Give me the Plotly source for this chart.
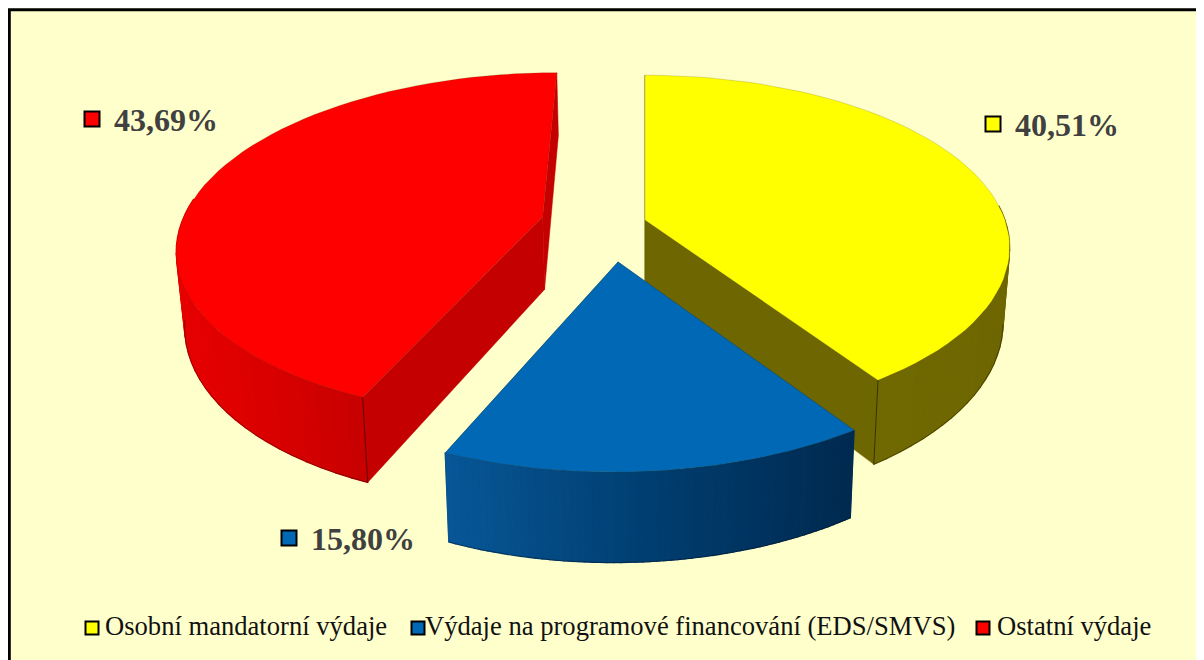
import math
import plotly.graph_objects as go

labels = ["Osobní mandatorní výdaje", "Výdaje na programové financování (EDS/SMVS)", "Ostatní výdaje"]
values = [40.51, 15.80, 43.69]
value_text = ["40,51%", "15,80%", "43,69%"]
top_colors = ["#FFFF00", "#0068B5", "#FF0000"]
inner_colors = ["#6E6600", "#004C88", "#C40000"]
# side wall shading, from left to right across the visible rim
rim_colors = {
    0: [(0.0, (112, 104, 0)), (1.0, (110, 102, 0))],
    1: [(0.0, (8, 86, 150)), (0.5, (0, 62, 112)), (1.0, (0, 42, 80))],
    2: [(0.0, (230, 0, 0)), (0.3, (224, 0, 0)), (0.7, (212, 0, 0)), (1.0, (200, 0, 0))],
}
# explosion of each slice on the pie plane, and its radii
offsets = [(0.0, 0.0), (-0.072, -0.24), (-0.285, 0.02)]
radii = [(1.0, 1.0), (0.99, 0.97), (1.0, 1.0)]

# perspective camera, pixels (axes below run in page pixels)
CX, CY, A, B, K = 645, 220, 360, 168, 0.16
DEPTH, SHRINK = 73, 0.982


def project(X, Y, low=False):
    w = 1 + K * Y
    x = A * X / w
    y = CY - B * Y / w
    if low:
        return CX + SHRINK * x, y + DEPTH / w
    return CX + x, y


def mix(stops, t):
    for (t0, c0), (t1, c1) in zip(stops, stops[1:]):
        if t <= t1:
            u = (t - t0) / (t1 - t0)
            return "rgb(%d,%d,%d)" % tuple(round(a + (b - a) * u) for a, b in zip(c0, c1))
    return "rgb(%d,%d,%d)" % stops[-1][1]


def poly(pts, fill, line=None, width=1.2):
    return go.Scatter(
        x=[p[0] for p in pts] + [pts[0][0]],
        y=[p[1] for p in pts] + [pts[0][1]],
        mode="lines",
        fill="toself",
        fillcolor=fill,
        line=dict(color=line or fill, width=width),
        hoverinfo="skip",
        showlegend=False,
    )


def stroke(pts, color, width=1.0):
    return go.Scatter(
        x=[p[0] for p in pts], y=[p[1] for p in pts], mode="lines",
        line=dict(color=color, width=width), hoverinfo="skip", showlegend=False,
    )


total = sum(values)
starts, acc = [], 0.0
for v in values:
    starts.append(acc)
    acc += v / total * 2 * math.pi

EDGE = "rgba(0,0,0,0.35)"
fig = go.Figure()
for i in [2, 0, 1]:  # painter's order: far slices first
    ox, oy = offsets[i]
    rx, ry = radii[i]
    t0 = starts[i]
    t1 = t0 + values[i] / total * 2 * math.pi
    n = 60
    angles = [t0 + (t1 - t0) * j / n for j in range(n + 1)]
    rim = [(ox + rx * math.sin(t), oy + ry * math.cos(t)) for t in angles]
    apex = (ox, oy)
    # inner walls
    for end in (rim[0], rim[-1]):
        quad = [project(*apex), project(*end), project(*end, low=True), project(*apex, low=True)]
        fig.add_trace(poly(quad, inner_colors[i], width=0.5))
    # outer wall, only the part facing the viewer
    vis = [j for j in range(n) if math.cos((angles[j] + angles[j + 1]) / 2) < 0.1]
    if vis:
        xs = [project(*rim[j])[0] for j in vis]
        lo, hi = min(xs), max(xs)
        for j in vis:
            a, b = rim[j], rim[j + 1]
            t = (project(*a)[0] - lo) / (hi - lo + 1e-9)
            c = mix(rim_colors[i], max(0, min(1, t)))
            fig.add_trace(poly([project(*a), project(*b), project(*b, low=True), project(*a, low=True)], c))
        outline = [j for j in range(n + 1) if math.cos(angles[j]) < -K]
        fig.add_trace(stroke([project(*rim[j], low=True) for j in outline], EDGE))
    # the corner where the rim meets the wall nearest the viewer
    if i != 1:
        corner = rim[-1] if i == 0 else rim[0]
        fig.add_trace(stroke([project(*corner), project(*corner, low=True)], "rgba(0,0,0,0.5)"))
    # top face
    top = [project(*apex)] + [project(*p) for p in rim]
    fig.add_trace(poly(top, top_colors[i], line="rgba(70,60,0,0.3)", width=0.6))

LABEL_FONT = dict(family="Liberation Serif", size=32, color="#404040", weight="bold")
KEY_FONT = dict(family="Liberation Serif", size=26.6, color="#111111")
label_xy = [(993, 124), (289, 538), (92, 119)]
key_marker_x = [92, 418, 983]
key_text_x = [105, 425, 997]
KEY_Y = 628

for i in range(3):
    fig.add_trace(go.Scatter(
        x=[label_xy[i][0]], y=[label_xy[i][1]], mode="markers", hoverinfo="skip", showlegend=False,
        marker=dict(symbol="square", size=15, color=top_colors[i], line=dict(color="black", width=2)),
    ))
    fig.add_trace(go.Scatter(
        x=[label_xy[i][0] + 22], y=[label_xy[i][1] + 4], mode="text",
        text=[value_text[i]], textposition="middle right", showlegend=False, hoverinfo="skip",
        textfont=LABEL_FONT,
    ))
    fig.add_trace(go.Scatter(
        x=[key_marker_x[i]], y=[KEY_Y], mode="markers", hoverinfo="skip", showlegend=False, name=labels[i],
        marker=dict(symbol="square", size=13, color=top_colors[i], line=dict(color="black", width=2)),
    ))
    fig.add_trace(go.Scatter(
        x=[key_text_x[i]], y=[KEY_Y], mode="text",
        text=[labels[i]], textposition="middle right", showlegend=False, hoverinfo="skip",
        textfont=KEY_FONT,
    ))

# page body margin puts the plot at 8 px; axes run in page pixels so the frame starts there
fig.update_layout(
    width=1204, height=660,
    margin=dict(l=0, r=0, t=0, b=0),
    paper_bgcolor="#FFFFCC", plot_bgcolor="rgba(0,0,0,0)",
    xaxis=dict(range=[8, 1212], visible=False, fixedrange=True),
    yaxis=dict(range=[668, 8], visible=False, fixedrange=True),
    showlegend=False,
    shapes=[dict(type="rect", xref="x", yref="y", x0=9.3, y0=9.7, x1=1240, y1=700,
                 fillcolor="rgba(0,0,0,0)", line=dict(color="black", width=3), layer="below")],
)
fig.write_html("out.html", config={"displayModeBar": False})
